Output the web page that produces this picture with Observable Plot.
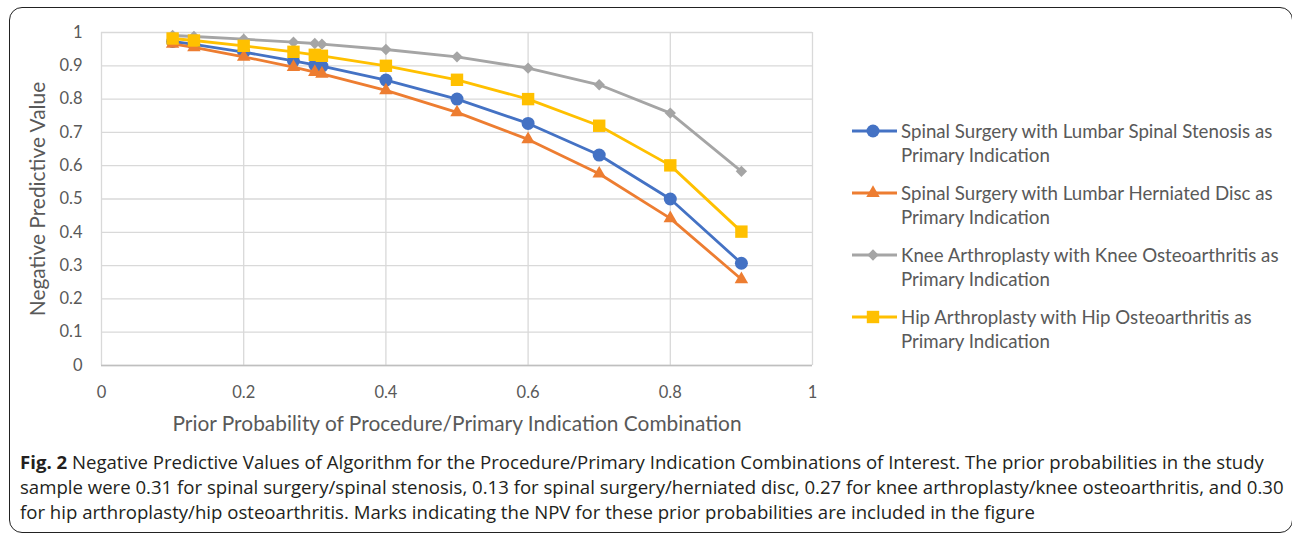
<!DOCTYPE html>
<html>
<head>
<meta charset="utf-8">
<script src="https://cdn.jsdelivr.net/npm/d3@7"></script>
<script src="https://cdn.jsdelivr.net/npm/@observablehq/plot@0.6"></script>
<style>
  html, body { margin: 0; padding: 0; background: #fff; }
  #page { position: relative; width: 1292px; height: 534px; overflow: hidden; background: #fff; }
  #frame { position: absolute; left: 9px; top: 7px; width: 1284px; height: 526px; box-sizing: border-box;
           border: 1.6px solid #222; border-radius: 13px; }
  #chart { position: absolute; left: 0; top: 0; }
  #legend { position: absolute; left: 851px; top: 0; font-family: Lato, sans-serif; font-size: 18.7px;
            line-height: 24px; color: #595959; }
  .entry { position: absolute; left: 0; white-space: nowrap; }
  .entry svg { position: absolute; left: 0; top: 0; }
  .entry div { position: absolute; left: 50px; top: 0; }
  #caption { position: absolute; left: 20px; top: 449px; font-family: "Open Sans", sans-serif; font-size: 18.6px;
             line-height: 25px; color: #231f20; white-space: nowrap; }
  #caption b { font-weight: 700; }
</style>
</head>
<body>
<div id="page">
  <div id="frame"></div>
  <div id="chart"></div>
  <div id="legend"></div>
  <div id="caption"></div>
</div>
<script>
// ---- data ----
const priorProbability = [0.1, 0.13, 0.2, 0.27, 0.3, 0.31, 0.4, 0.5, 0.6, 0.7, 0.8, 0.9];
const spinalStenosis  = [0.973, 0.964, 0.941, 0.915, 0.903, 0.899, 0.857, 0.800, 0.727, 0.632, 0.500, 0.307];
const herniatedDisc   = [0.966, 0.955, 0.927, 0.896, 0.881, 0.876, 0.826, 0.760, 0.679, 0.576, 0.442, 0.259];
const kneeOA          = [0.991, 0.988, 0.980, 0.971, 0.967, 0.965, 0.949, 0.927, 0.893, 0.843, 0.758, 0.583];
const hipOA           = [0.982, 0.976, 0.960, 0.942, 0.933, 0.930, 0.900, 0.858, 0.800, 0.720, 0.601, 0.402];

const seriesNames = [
  ["Spinal Surgery with Lumbar Spinal Stenosis as", "Primary Indication"],
  ["Spinal Surgery with Lumbar Herniated Disc as", "Primary Indication"],
  ["Knee Arthroplasty with Knee Osteoarthritis as", "Primary Indication"],
  ["Hip Arthroplasty with Hip Osteoarthritis as", "Primary Indication"]
];
const seriesValues = [spinalStenosis, herniatedDisc, kneeOA, hipOA];
const seriesColors = ["#4472C4", "#ED7D31", "#A5A5A5", "#FFC000"];
const seriesSymbols = ["circle", "triangle", "diamond2", "square"];
const symbolRadius = [6.5, 5.0, 5.1, 7.0];

const xTicks = [0, 0.2, 0.4, 0.6, 0.8, 1];
const xTickLabels = ["0", "0.2", "0.4", "0.6", "0.8", "1"];
const yTicks = [0, 0.1, 0.2, 0.3, 0.4, 0.5, 0.6, 0.7, 0.8, 0.9, 1];
const yTickLabels = ["0", "0.1", "0.2", "0.3", "0.4", "0.5", "0.6", "0.7", "0.8", "0.9", "1"];

const xTitle = "Prior Probability of Procedure/Primary Indication Combination";
const yTitle = "Negative Predictive Value";

// ---- table ----
const rows = [];
seriesValues.forEach((vals, s) => {
  vals.forEach((v, i) => rows.push({series: s, x: priorProbability[i], y: v}));
});

const seriesMarks = [];
seriesValues.forEach((vals, s) => {
  const data = rows.filter(d => d.series === s);
  seriesMarks.push(Plot.line(data, {x: "x", y: "y", stroke: seriesColors[s], strokeWidth: 2.8}));
  seriesMarks.push(Plot.dot(data, {x: "x", y: "y", symbol: seriesSymbols[s], r: symbolRadius[s], fill: seriesColors[s], stroke: "none"}));
});

const chart = Plot.plot({
  width: 1292,
  height: 440,
  marginLeft: 101,
  marginRight: 480,
  marginTop: 32,
  marginBottom: 75,
  style: {fontFamily: "Lato, sans-serif", fontSize: "16.5px", color: "#595959", background: "transparent"},
  x: {domain: [0, 1]},
  y: {domain: [0, 1]},
  marks: [
    Plot.gridX(xTicks, {stroke: "#D9D9D9", strokeOpacity: 1, strokeWidth: 1.3}),
    Plot.gridY(yTicks, {stroke: "#D9D9D9", strokeOpacity: 1, strokeWidth: 1.3}),
    Plot.ruleY([0], {stroke: "#BFBFBF", strokeWidth: 1.6}),
    Plot.axisX(xTicks, {tickSize: 0, tickPadding: 21, fontSize: 16.5, label: null,
      tickFormat: d => xTickLabels[xTicks.indexOf(d)]}),
    Plot.axisY(yTicks, {tickSize: 0, tickPadding: 19, fontSize: 16.5, label: null,
      tickFormat: d => yTickLabels[yTicks.indexOf(d)]}),
    Plot.text([xTitle], {frameAnchor: "bottom", dy: 59, fontSize: 20.9, textAnchor: "middle", lineAnchor: "middle", fill: "#595959"}),
    Plot.text([yTitle], {frameAnchor: "left", dx: -63, rotate: -90, fontSize: 20.9, textAnchor: "middle", lineAnchor: "middle", fill: "#595959"}),
    ...seriesMarks
  ]
});
document.getElementById("chart").appendChild(chart);

// ---- legend ----
const legend = document.getElementById("legend");
seriesNames.forEach((lines, s) => {
  const e = document.createElement("div");
  e.className = "entry";
  e.style.top = (119 + s * 62) + "px";
  const sym = d3.symbol(d3["symbol" + {circle: "Circle", triangle: "Triangle", diamond2: "Diamond2", square: "Square"}[seriesSymbols[s]]],
                        Math.PI * symbolRadius[s] * symbolRadius[s])();
  e.innerHTML = `<svg width="48" height="24"><line x1="1" x2="46" y1="12" y2="12" stroke="${seriesColors[s]}" stroke-width="2.8"/>` +
    `<path transform="translate(22,12)" d="${sym}" fill="${seriesColors[s]}"/></svg>` +
    `<div>${lines[0]}<br>${lines[1]}</div>`;
  legend.appendChild(e);
});

// ---- caption ----
const captionLines = [
  "Negative Predictive Values of Algorithm for the Procedure/Primary Indication Combinations of Interest. The prior probabilities in the study",
  "sample were 0.31 for spinal surgery/spinal stenosis, 0.13 for spinal surgery/herniated disc, 0.27 for knee arthroplasty/knee osteoarthritis, and 0.30",
  "for hip arthroplasty/hip osteoarthritis. Marks indicating the NPV for these prior probabilities are included in the figure"
];
document.getElementById("caption").innerHTML =
  "<b>Fig. 2</b> " + captionLines[0] + "<br>" + captionLines[1] + "<br>" + captionLines[2];
</script>
</body>
</html>
